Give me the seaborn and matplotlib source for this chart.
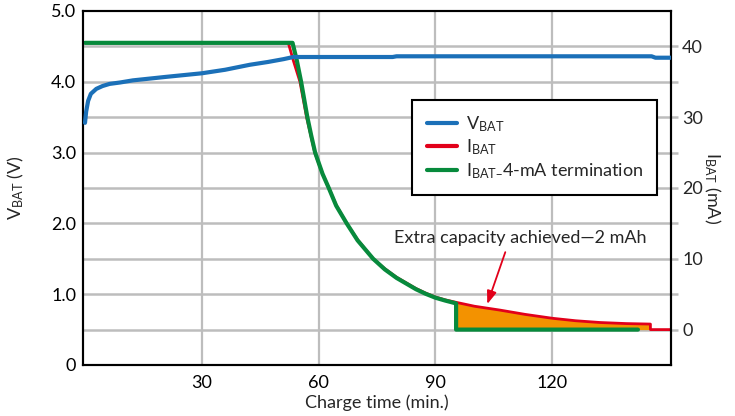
import numpy as np
import pandas as pd
import matplotlib.pyplot as plt
import seaborn as sns

# battery voltage (left axis)
t_vbat = [0, 0.3, 0.8, 1.5, 2.9, 4.5, 6.3, 9, 12.3, 20.9, 30, 36, 42.3, 47, 51, 53.5, 79, 80, 145.5, 146.5, 150.5]
v_bat = [3.42, 3.58, 3.73, 3.83, 3.90, 3.94, 3.97, 3.99, 4.02, 4.07, 4.12, 4.17, 4.24, 4.28, 4.32, 4.35, 4.35, 4.36, 4.36, 4.34, 4.34]

# charge current (right axis)
t_ibat = [0, 52.2, 53.5, 55.2, 56.9, 58, 59, 61, 62.6, 64.5, 67.2, 70, 74, 77, 80, 82.5, 85, 87.5, 90, 92.5, 95.3,
          100, 106.6, 113, 120, 126, 132.3, 139, 145.2, 145.2, 150.5]
i_bat = [40.5, 40.5, 38, 35, 30, 27.4, 25, 22, 20, 17.6, 15, 12.7, 10, 8.6, 7.4, 6.6, 5.8, 5.15, 4.6, 4.2, 3.85,
         3.3, 2.75, 2.15, 1.6, 1.25, 1.0, 0.85, 0.78, 0, 0]

# current with 4-mA termination
t_term = [0, 53.3, 54.4, 55.5, 57.1, 58.1, 59.1, 61, 62.6, 64.5, 67.2, 70, 74, 77, 80, 82.5, 85, 87.5, 90, 92.5,
          95.3, 95.3, 142]
i_term = [40.5, 40.5, 38, 35, 30, 27.4, 25, 22, 20, 17.5, 15, 12.6, 10, 8.5, 7.3, 6.5, 5.7, 5.05, 4.5, 4.1,
          3.7, 0, 0]

x_ticks = [30, 60, 90, 120]
v_ticks = [0, 1, 2, 3, 4, 5]
v_ticklabels = ['0', '1.0', '2.0', '3.0', '4.0', '5.0']
i_ticks = [0, 10, 20, 30, 40]
i_minor = [5, 15, 25, 35]

BLUE = '#1b70b8'
RED = '#e2001a'
GREEN = '#078a3c'
ORANGE = '#f39200'
GRID = '#bdbdbd'
FS = 13

sns.set_style('white')
plt.rcParams['font.family'] = ['Lato', 'DejaVu Sans']
plt.rcParams['mathtext.default'] = 'regular'

df_v = pd.DataFrame({'t': t_vbat, 'v': v_bat})
df_i = pd.DataFrame({'t': t_ibat, 'i': i_bat})
df_term = pd.DataFrame({'t': t_term, 'i': i_term})

fig = plt.figure(figsize=(7.35, 4.16), dpi=100)
ax = fig.add_axes([0.113, 0.1226, 0.8, 0.851])
ax2 = ax.twinx()
# voltage axis drawn above the current axis
ax.set_zorder(ax2.get_zorder() + 1)
ax.patch.set_visible(False)

# extra capacity shaded region
t_arr = np.array(t_ibat)
i_arr = np.array(i_bat)
mask = (t_arr >= 95.3) & (i_arr > 0)
ax2.fill_between(t_arr[mask], 0, i_arr[mask], color=ORANGE, lw=0, zorder=1)

sns.lineplot(data=df_i, x='t', y='i', ax=ax2, color=RED, lw=2.0,
             estimator=None, sort=False, zorder=2)
sns.lineplot(data=df_term, x='t', y='i', ax=ax2, color=GREEN, lw=3.0,
             estimator=None, sort=False, zorder=3)
sns.lineplot(data=df_v, x='t', y='v', ax=ax, color=BLUE, lw=3.0,
             estimator=None, sort=False, zorder=4)

ax.set_xlim(-0.5, 150.5)
ax.set_ylim(0, 5.0)
ax2.set_ylim(-5, 45)

ax.set_xticks(x_ticks)
ax.set_yticks(v_ticks)
ax.set_yticklabels(v_ticklabels)
ax.tick_params(axis='both', length=0, labelsize=FS, colors='black')
ax.tick_params(axis='x', pad=7)
ax.tick_params(axis='y', pad=5)
ax.grid(False)

# grid lives on the lower (current) axis
ax2.xaxis.set_visible(True)
ax2.set_xlabel('')
ax2.set_yticks(i_ticks)
ax2.set_yticks(i_minor, minor=True)
ax2.set_yticklabels([str(v) for v in i_ticks])
ax2.tick_params(axis='x', length=0, labelbottom=False)
ax2.tick_params(axis='y', which='both', direction='out', length=5,
                color=GRID, width=1.8, labelsize=FS, pad=3)
ax2.grid(True, which='both', axis='y', color=GRID, linewidth=1.8)
ax2.grid(True, which='major', axis='x', color=GRID, linewidth=1.6)

for a in (ax, ax2):
    for s in a.spines.values():
        s.set_color('black')
        s.set_linewidth(1.5)

ax.set_xlabel('Charge time (min.)', fontsize=FS, labelpad=3)
ax.set_ylabel('V$_{BAT}$ (V)', fontsize=FS)
ax.yaxis.set_label_coords(-0.097, 0.5)
ax2.set_ylabel('I$_{BAT}$ (mA)', fontsize=FS, rotation=-90)
ax2.yaxis.set_label_coords(1.087, 0.5)

ax2.annotate('Extra capacity achieved\u20142 mAh', xy=(103.3, 3.6), xytext=(111.7, 12.9),
             ha='center', va='center', fontsize=FS,
             arrowprops=dict(arrowstyle='-|>,head_length=0.6,head_width=0.22',
                             color=RED, lw=1.3, relpos=(0.45, 0), shrinkB=0))

lines_i = ax2.get_lines()
leg_handles = [ax.get_lines()[0], lines_i[0], lines_i[1]]
leg = ax.legend(leg_handles, ['V$_{BAT}$', 'I$_{BAT}$', 'I$_{BAT\u2013}$4-mA termination'],
                loc='upper left', bbox_to_anchor=(0.56, 0.749), borderaxespad=0,
                fontsize=FS, handlelength=1.7, handletextpad=0.45, labelspacing=0.2,
                borderpad=0.8, fancybox=False, framealpha=1, edgecolor='black')
leg.get_frame().set_linewidth(1.5)
for h in leg.legend_handles:
    h.set_linewidth(3.0)

fig.savefig('out.png', dpi=100)
